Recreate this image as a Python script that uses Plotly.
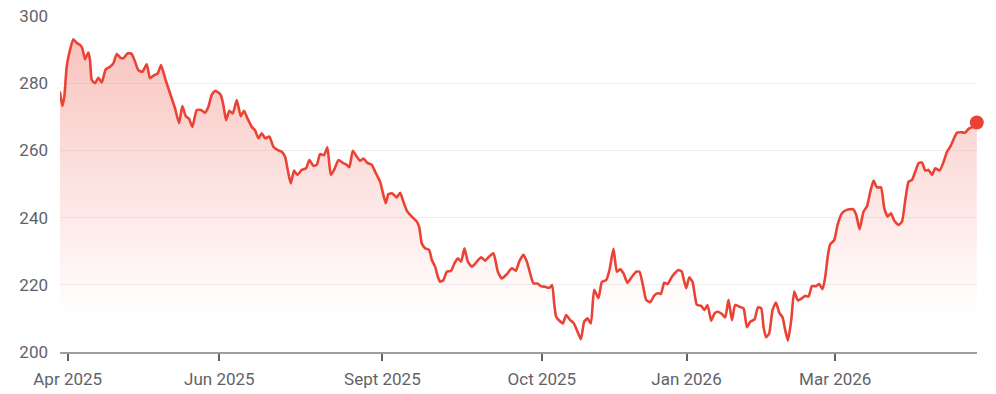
import plotly.graph_objects as go

# Position along the time axis (trading-session scale) and price values
t = [60, 62.3, 64.3, 66.7, 70, 73.3, 76.7, 80, 82.3, 85, 88.3, 90, 91.7, 95, 98.3, 101.7,
     105.7, 110, 113.3, 116.7, 120, 123.3, 127.7, 131.7, 135, 138.3, 142.3, 146.7, 150,
     154.3, 157.7, 161, 165, 170, 175, 179, 182.3, 185.7, 189, 192.3, 196.7, 201, 205,
     208.3, 211.7, 215, 218, 220.7, 223.3, 226, 229.3, 232.7, 236.7, 240.7, 244, 247.3,
     251.7, 255, 258.3, 261.7, 265, 269.3, 273.3, 277.7, 281.7, 285, 288.3, 290.7, 294,
     297.3, 301.7, 306, 309.3, 313.3, 316.7, 320, 324, 327.3, 330.7, 334, 338.3, 342.7,
     346.7, 349.3, 352.7, 356.7, 360, 363.3, 367.3, 371.7, 375, 380, 383.3, 385.7, 388.3,
     392.3, 396.7, 400, 403.3, 406.7, 411.7, 416.7, 419, 421.7, 425, 429, 431.7, 435,
     437.7, 440, 443.3, 446.7, 451, 454.3, 457.7, 461, 464.3, 467.7, 471.7, 476.7, 481,
     485, 489, 493.3, 497.7, 501.7, 506.7, 511.7, 515.7, 519, 523.3, 526.7, 530, 533.3,
     537.3, 540.7, 545, 549.3, 552, 554, 556, 559.3, 562.7, 566, 570, 573.3, 576.7, 580.7,
     584, 587.3, 590.7, 594, 598.3, 601.7, 606, 609.3, 613.3, 616.7, 620, 623.3, 627.3,
     631.7, 636, 639.3, 642.7, 646, 650, 654, 657.3, 660.7, 664, 667.3, 671.7, 676, 678.3,
     681.7, 683.3, 686, 689, 692.3, 694.3, 696.7, 701, 704.3, 707.3, 711, 714.3, 717.7,
     721.7, 725, 728.3, 731.7, 735, 739, 743.3, 746.7, 750, 754.3, 757.7, 761, 763.3,
     765.7, 769, 772.3, 775.7, 779, 782.3, 785, 787.7, 791, 794, 797.7, 801.7, 805, 808.3,
     811.7, 815.7, 819, 822.3, 825, 827.7, 830, 834, 837.3, 841.7, 846.7, 852.7, 856,
     859.3, 863.3, 866.7, 870, 873.3, 876.7, 880.7, 884, 887.3, 890.7, 894, 898.3, 901.7,
     905, 908.3, 911.7, 915, 918.3, 921.7, 925, 928.3, 931.7, 935, 939.3, 943.3, 946.7,
     950, 953.3, 956.7, 960.7, 965, 968.3, 971.7, 976.5]

price = [277.5, 273.2, 276, 284.9, 289.9, 293.1, 292, 291.4, 290.4, 287.1, 289.1, 286.9,
         281, 280, 281.6, 280.2, 284.1, 284.9, 285.9, 288.7, 287.7, 287.4, 288.9, 288.7,
         286.4, 283.9, 283.4, 285.6, 281.5, 282.4, 282.9, 285.4, 281.5, 277, 272.5, 268.1,
         273.2, 270.2, 269.4, 267, 272, 272, 271.2, 273, 276.5, 277.7, 277.3, 276.5, 273.5,
         269, 271.8, 271, 275, 270.2, 271.8, 269.6, 267, 266, 263.6, 265.1, 263.6, 264.1,
         261.1, 260.1, 259.6, 258.1, 253.2, 250.2, 254, 252.7, 254.2, 254.7, 257.1, 255.4,
         255.7, 258.9, 258.6, 260.9, 252.7, 254.2, 257.1, 256.3, 255.7, 255, 259.9, 258.1,
         256.9, 257.6, 256.3, 255.7, 253.7, 250.7, 246.7, 244.3, 247, 247.2, 246, 247.4,
         244.7, 242.1, 240.3, 238.8, 237.3, 232.3, 230.9, 230.4, 227.4, 225.4, 222.4,
         220.9, 221.4, 223.9, 224.2, 226.4, 227.9, 226.9, 230.9, 226.9, 225.4, 226.9,
         228.2, 227.2, 228.4, 229.4, 223.9, 221.9, 223.2, 224.9, 224.2, 226.9, 228.9,
         226.9, 223.4, 220.4, 220.4, 219.6, 219.4, 219.1, 219.9, 214.5, 210.5, 209.3,
         208.5, 211, 209.5, 208.7, 206.5, 203.8, 209, 210, 208.5, 218.5, 216, 220.9, 221.4,
         224.4, 230.7, 223.9, 224.6, 223.4, 220.6, 222.4, 223.9, 223.9, 219.9, 215.5,
         214.8, 216.8, 217.5, 217.3, 220.6, 220.2, 222.4, 223.9, 224.4, 223.9, 221.9, 219,
         222.2, 220.9, 217.5, 214, 213.7, 212.5, 214, 209.3, 211.5, 212, 211.3, 210.3,
         215.5, 209.5, 214, 213.5, 213, 207.4, 209, 209.7, 213.3, 213, 207.5, 204.4, 205.6,
         212.5, 214.7, 211.7, 210.3, 206.5, 203.4, 209.5, 218, 215.3, 216, 216.7, 216.5,
         219.6, 219.6, 220.2, 218.7, 222.4, 228.9, 232.1, 233.3, 237.8, 241.3, 242.3,
         242.5, 240.8, 236.5, 241.8, 243.3, 247.7, 251, 249, 249, 242.8, 240.3, 241.3,
         239.1, 237.8, 238.8, 245.2, 250.7, 251.2, 253.7, 256.2, 256.4, 254, 254.2, 252.7,
         254.7, 254, 256.6, 259.6, 261.1, 263.3, 265.3, 265.4, 265.3, 266.4, 266.9, 268.3]

tick_pos = [67.7, 219.3, 382.3, 541.7, 686.3, 835]
tick_text = ["Apr 2025", "Jun 2025", "Sept 2025", "Oct 2025", "Jan 2026", "Mar 2026"]
y_ticks = [200, 220, 240, 260, 280, 300]

RED = "#ea4335"
GREY = "#5f6368"

fig = go.Figure()
fig.add_trace(go.Scatter(
    x=t, y=price, mode="lines",
    line=dict(color=RED, width=2.6, shape="spline", smoothing=0.5),
    fill="tozeroy",
    fillgradient=dict(type="vertical", start=211, stop=294,
                      colorscale=[[0, "rgba(234,67,53,0)"], [1, "rgba(234,67,53,0.32)"]]),
    hoverinfo="skip", showlegend=False,
))
fig.add_trace(go.Scatter(
    x=[t[-1]], y=[price[-1]], mode="markers",
    marker=dict(color=RED, size=14), cliponaxis=False,
    hoverinfo="skip", showlegend=False,
))

fig.update_layout(
    width=996, height=394, autosize=False,
    margin=dict(l=60, r=19, t=16, b=42, autoexpand=False),
    paper_bgcolor="white", plot_bgcolor="white",
    font=dict(family="Roboto, Arial, sans-serif", size=17, color=GREY),
    xaxis=dict(range=[60, 976.7], tickvals=tick_pos, ticktext=tick_text,
               automargin=False,
               showgrid=False, zeroline=False, showline=True, linecolor="#9aa0a6",
               linewidth=1.5, ticks="outside", ticklen=7, tickwidth=2, tickcolor=GREY,
               ticklabelstandoff=4, tickfont=dict(size=17, color=GREY)),
    yaxis=dict(range=[200, 300], tickvals=y_ticks, showgrid=True, gridcolor="#efefef",
               automargin=False,
               gridwidth=1, zeroline=False, showline=False, ticks="",
               ticklabelstandoff=11, tickfont=dict(size=17, color=GREY)),
)

fig.write_html("out.html")
